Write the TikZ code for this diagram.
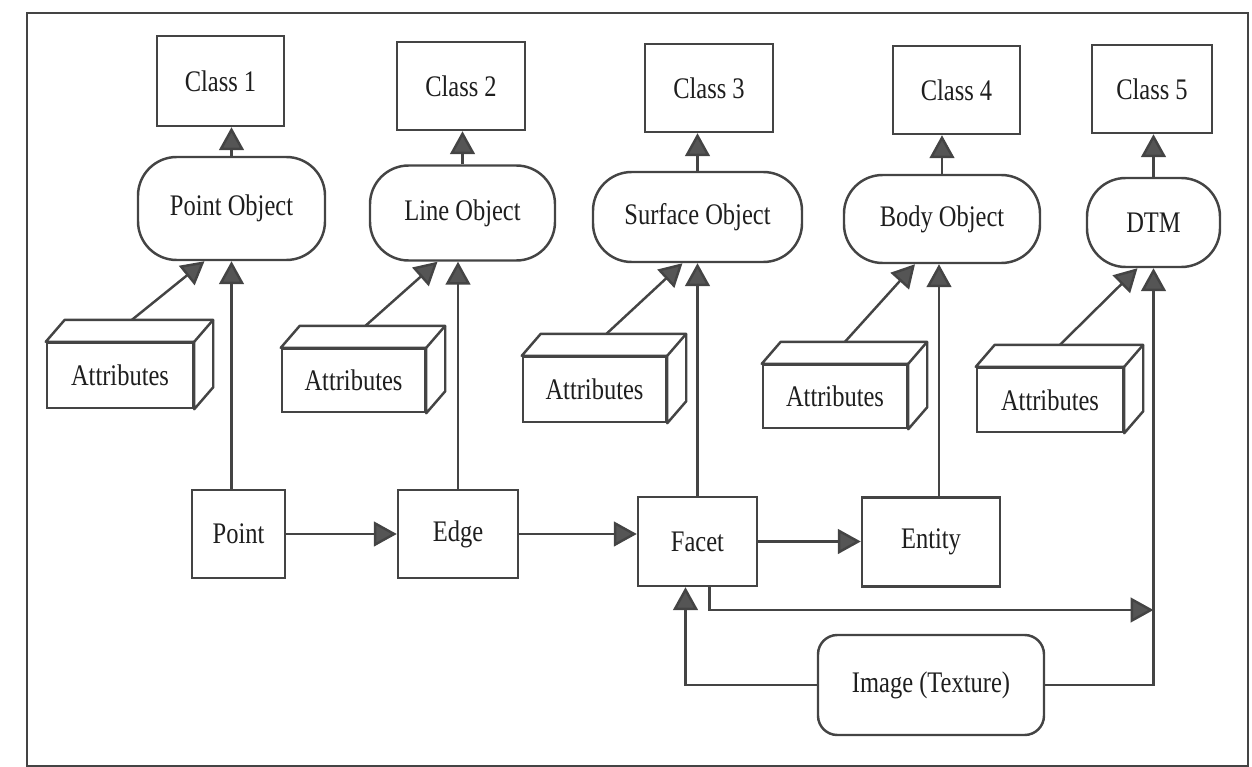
\documentclass[tikz,border=0pt]{standalone}
\usepackage{fontspec}
\setmainfont[FakeStretch=0.82]{Liberation Serif}
\usetikzlibrary{calc,arrows.meta}
\definecolor{ln}{HTML}{444444}
\definecolor{tipc}{HTML}{555555}
\definecolor{txt}{HTML}{1E1E1E}
\tikzset{
  sz/.style 2 args={minimum width=#1*0.02cm, minimum height=#2*0.02cm},
  box/.style={draw=ln, line width=1.4pt, fill=white, inner sep=0pt, align=center,
    font=\fontsize{17}{20}\selectfont, text=txt},
  obj/.style={box, rounded corners=22pt},
  imgbox/.style={box, rounded corners=11pt},
  arr/.style={draw=ln, line width=1.4pt, -{Triangle[length=13pt,width=14pt,fill=tipc]}},
  ln/.style={draw=ln, line width=1.4pt},
}
\newcommand\cuboid[1]{%
  \draw[ln, fill=white, line join=round] (#1.north west) -- ++(19,-22) -- ($(#1.north east)+(19,-22)$)
     -- ($(#1.south east)+(19,-22)$) -- (#1.south east) -- (#1.north east) -- cycle;
  \draw[ln] (#1.north east) -- ++(19,-22);
}
\begin{document}
\begin{tikzpicture}[x=0.02cm, y=-0.02cm]
\useasboundingbox (0,0) rectangle (1252,767);
\draw[draw=ln, line width=1.3pt] (27,13) rectangle (1248,766);

% classes
\node[box, sz={127}{90}] (c1) at (220.5,81) {Class 1};
\node[box, sz={128}{88}] (c2) at (461,86) {Class 2};
\node[box, sz={128}{88}] (c3) at (709,88) {Class 3};
\node[box, sz={127}{88}] (c4) at (956.5,90) {Class 4};
\node[box, sz={120}{88}] (c5) at (1152,89) {Class 5};

% objects
\node[obj, sz={187}{103}] (po) at (231.5,208.5) {Point Object};
\node[obj, sz={185}{95}] (lo) at (462.5,213) {Line Object};
\node[obj, sz={209}{90}] (so) at (697.5,217) {Surface Object};
\node[obj, sz={196}{88}] (bo) at (942,219) {Body Object};
\node[obj, sz={133}{89}] (dtm) at (1153.5,222.5) {DTM};

% attributes
\node[box, sz={146}{65}] (a1) at (120,375.5) {Attributes};
\node[box, sz={143}{63}] (a2) at (353.5,380.5) {Attributes};
\node[box, sz={143}{65}] (a3) at (594.5,389.5) {Attributes};
\node[box, sz={144}{63}] (a4) at (835,396.5) {Attributes};
\node[box, sz={146}{64}] (a5) at (1050,400) {Attributes};
\cuboid{a1}\cuboid{a2}\cuboid{a3}\cuboid{a4}\cuboid{a5}

% bottom row
\node[box, sz={93}{88}] (pt) at (238.5,534) {Point};
\node[box, sz={120}{88}] (ed) at (458,534) {Edge};
\node[box, sz={119}{89}] (fa) at (697.5,541.5) {Facet};
\node[box, sz={138}{89}] (en) at (931,542) {Entity};
\node[imgbox, sz={226}{100}] (img) at (931,685) {Image (Texture)};

% object -> class
\draw[arr] (po.north) -- (po.north |- c1.south);
\draw[arr] (lo.north) -- (lo.north |- c2.south);
\draw[arr] (so.north) -- (so.north |- c3.south);
\draw[arr] (bo.north) -- (bo.north |- c4.south);
\draw[arr] (dtm.north) -- (dtm.north |- c5.south);

% attributes -> objects
\coordinate (t1) at ($(a1.north)+(12,-22)$);
\coordinate (t2) at ($(a2.north)+(12,-22)$);
\coordinate (t3) at ($(a3.north)+(12,-22)$);
\coordinate (t4) at ($(a4.north)+(10,-22)$);
\coordinate (t5) at ($(a5.north)+(10,-22)$);
\draw[arr] (t1) -- ($(po.south)+(-27,0)$);
\draw[arr] (t2) -- ($(lo.south)+(-25,0)$);
\draw[arr] (t3) -- ($(so.south)+(-15,0)$);
\draw[arr] (t4) -- ($(bo.south)+(-27,0)$);
\draw[arr] (t5) -- ($(dtm.south)+(-16,0)$);

% bottom -> objects
\draw[arr] (pt.north -| po.south) -- (po.south);
\draw[arr] (ed.north) -- (ed.north |- lo.south);
\draw[arr] (fa.north) -- (fa.north |- so.south);
\draw[arr] ($(bo.south |- en.north)+(-3,0)$) -- ($(bo.south)+(-3,0)$);

% horizontal chain
\draw[arr] (pt.east) -- (pt.east -| ed.west);
\draw[arr] (ed.east) -- (ed.east -| fa.west);
\draw[arr] (fa.east) -- (fa.east -| en.west);

% facet -> dtm line, image connections
\coordinate (fj) at (dtm.south |- 0,610);
\draw[arr] ($(fa.south)+(12,0)$) |- (fj);
\draw[arr] (img.east) -| (dtm.south);
\draw[arr] (img.west) -| ($(fa.south)+(-12,0)$);
\end{tikzpicture}
\end{document}
